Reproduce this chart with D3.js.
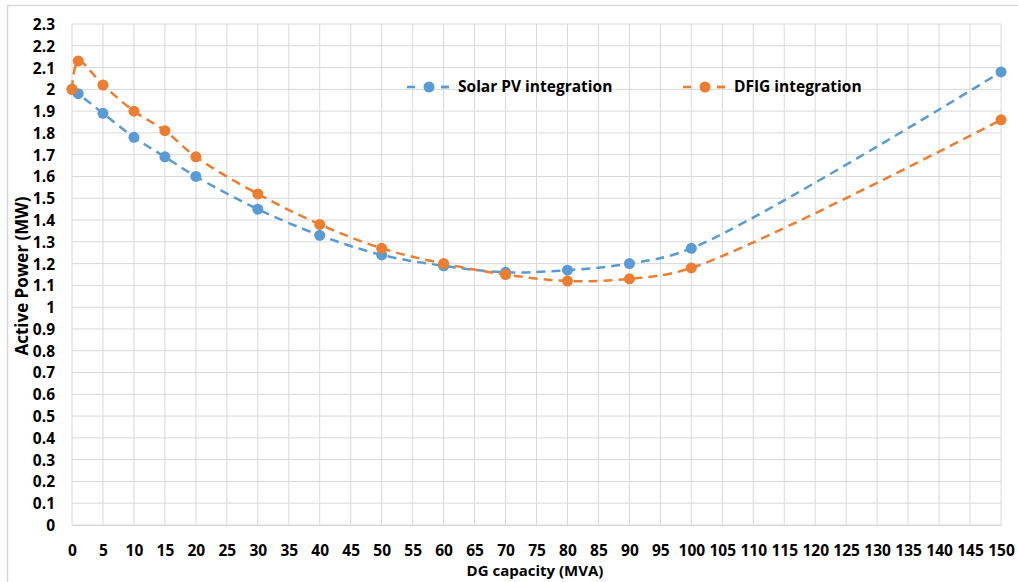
<!DOCTYPE html>
<html>
<head>
<meta charset="utf-8">
<script src="https://cdn.jsdelivr.net/npm/d3@7"></script>
<style>
  body { margin: 0; background: #fff; }
  svg text { font-family: "Open Sans", "Liberation Sans", sans-serif; font-weight: bold; fill: #000; }
</style>
</head>
<body>
<div id="chart"></div>
<script>
// Data
const capacity = [0, 1, 5, 10, 15, 20, 30, 40, 50, 60, 70, 80, 90, 100, 150];
const solarPV = [2.0, 1.98, 1.89, 1.78, 1.69, 1.60, 1.45, 1.33, 1.24, 1.19, 1.16, 1.17, 1.20, 1.27, 2.08];
const dfig = [2.0, 2.13, 2.02, 1.90, 1.81, 1.69, 1.52, 1.38, 1.27, 1.20, 1.15, 1.12, 1.13, 1.18, 1.86];
const xTicks = d3.range(0, 151, 5);
const yTicks = d3.range(0, 24).map(i => i / 10);

const series = [
    { name: "Solar PV integration", values: solarPV, color: "#5B9BD5", legendX: 407 },
    { name: "DFIG integration", values: dfig, color: "#ED7D31", legendX: 683 }
];

const viewW = 1018;
const viewH = 582;
const margin = { top: 24, right: 17, bottom: 57, left: 72 };
const width = viewW - margin.left - margin.right;
const height = viewH - margin.top - margin.bottom;

const root = d3.select("#chart")
    .append("svg")
    .attr("width", viewW)
    .attr("height", viewH);

// chart area border
root.append("rect")
    .attr("x", 7.5).attr("y", 5.5)
    .attr("width", 1020).attr("height", 600)
    .attr("fill", "none")
    .attr("stroke", "#d9d9d9")
    .attr("stroke-width", 1.5);

const svg = root.append("g")
    .attr("transform", `translate(${margin.left},${margin.top})`);

// Scales
const x = d3.scaleLinear().domain([0, 150]).range([0, width]);
const y = d3.scaleLinear().domain([0, 2.3]).range([height, 0]);

// Grid
svg.append("g")
    .selectAll("line")
    .data(xTicks)
    .join("line")
    .attr("x1", d => x(d)).attr("x2", d => x(d))
    .attr("y1", 0).attr("y2", height)
    .attr("stroke", "#d9d9d9");

svg.append("g")
    .selectAll("line")
    .data(yTicks)
    .join("line")
    .attr("x1", 0).attr("x2", width)
    .attr("y1", d => y(d)).attr("y2", d => y(d))
    .attr("stroke", "#d9d9d9");

// Axes (labels only, Excel style)
const xAxis = d3.axisBottom(x).tickValues(xTicks).tickSize(0).tickPadding(0).tickFormat(d3.format("d"));
const yAxis = d3.axisLeft(y).tickValues(yTicks).tickSize(0).tickPadding(0).tickFormat(d => String(+d.toFixed(1)));

svg.append("g")
    .attr("transform", `translate(0, ${height})`)
    .call(xAxis)
    .call(g => g.select(".domain").attr("stroke", "#d9d9d9"))
    .call(g => g.selectAll(".tick text").attr("dy", 0).attr("y", 31).style("font-size", "15.5px"));

svg.append("g")
    .call(yAxis)
    .call(g => g.select(".domain").remove())
    .call(g => g.selectAll(".tick text").attr("x", -17).attr("dy", "0.35em").style("font-size", "15.5px"));

// Axis titles
root.append("text")
    .attr("x", 535)
    .attr("y", 576)
    .attr("text-anchor", "middle")
    .style("font-size", "15px")
    .text("DG capacity (MVA)");

root.append("text")
    .attr("transform", "rotate(-90)")
    .attr("x", -276)
    .attr("y", 28)
    .attr("text-anchor", "middle")
    .style("font-size", "17px")
    .text("Active Power (MW)");

// Lines and markers
const line = d3.line()
    .x((d, i) => x(capacity[i]))
    .y(d => y(d))
    .curve(d3.curveCatmullRom.alpha(0.5));

series.forEach(s => {
    svg.append("path")
        .datum(s.values)
        .attr("d", line)
        .attr("fill", "none")
        .attr("stroke", s.color)
        .attr("stroke-width", 2.5)
        .attr("stroke-dasharray", "9,6");

    svg.append("g")
        .selectAll("circle")
        .data(s.values)
        .join("circle")
        .attr("cx", (d, i) => x(capacity[i]))
        .attr("cy", d => y(d))
        .attr("r", 5.5)
        .attr("fill", s.color);
});

// Legend
const legendY = 87;
series.forEach(s => {
    const g = root.append("g");
    g.append("line")
        .attr("x1", s.legendX).attr("x2", s.legendX + 42)
        .attr("y1", legendY).attr("y2", legendY)
        .attr("stroke", s.color)
        .attr("stroke-width", 2.5)
        .attr("stroke-dasharray", "8,26");
    g.append("line")
        .attr("x1", s.legendX + 34).attr("x2", s.legendX + 42)
        .attr("y1", legendY).attr("y2", legendY)
        .attr("stroke", s.color)
        .attr("stroke-width", 2.5);
    g.append("circle")
        .attr("cx", s.legendX + 22)
        .attr("cy", legendY)
        .attr("r", 5.5)
        .attr("fill", s.color);
    g.append("text")
        .attr("x", s.legendX + 51)
        .attr("y", legendY)
        .attr("dy", "0.35em")
        .style("font-size", "15.5px")
        .text(s.name);
});
</script>
</body>
</html>
